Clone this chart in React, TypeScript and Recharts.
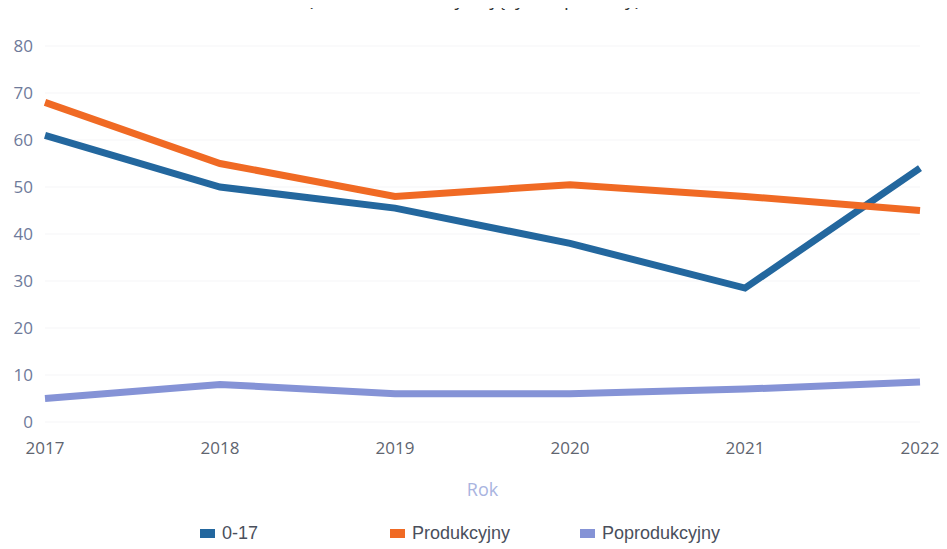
import React from 'react';
import { LineChart, Line, XAxis, YAxis, CartesianGrid, Label } from 'recharts';

const years = ['2017', '2018', '2019', '2020', '2021', '2022'];
const group0to17 = [61, 50, 45.5, 38, 28.5, 54];
const produkcyjny = [68, 55, 48, 50.5, 48, 45];
const poprodukcyjny = [5, 8, 6, 6, 7, 8.5];
const yTicks = [0, 10, 20, 30, 40, 50, 60, 70, 80];
const seriesNames = ['0-17', 'Produkcyjny', 'Poprodukcyjny'];
const seriesColors = ['#23679e', '#f06a24', '#8593d6'];

const data = years.map((rok, i) => ({
  rok,
  a: group0to17[i],
  b: produkcyjny[i],
  c: poprodukcyjny[i],
}));

const font = '"Open Sans", sans-serif';

function ChartLegend() {
  return (
    <div
      style={{
        position: 'absolute',
        top: 522,
        left: 200,
        display: 'flex',
        lineHeight: '22px',
        fontFamily: '"Liberation Sans", Arial, sans-serif',
        fontSize: 18,
        color: '#4a4f5c',
      }}
    >
      {seriesNames.map((name, i) => (
        <div key={name} style={{ width: 190, display: 'flex', alignItems: 'center' }}>
          <span style={{ display: 'inline-block', width: 15, height: 9, background: seriesColors[i], marginRight: 7 }} />
          {name}
        </div>
      ))}
    </div>
  );
}

export default function App() {
  return (
    <div style={{ position: 'relative', width: 947, height: 549, marginTop: -8, marginLeft: -8, overflow: 'hidden', background: '#fff' }}>
      <div
        style={{
          position: 'absolute',
          top: -14,
          left: 0,
          width: 900,
          lineHeight: '26px',
          textAlign: 'center',
          fontFamily: font,
          fontSize: 19,
          color: '#333',
          whiteSpace: 'nowrap',
          zIndex: 2,
        }}
      >
        Wiek (liczba osób korzystających z pomocy)
      </div>
      <LineChart width={947} height={549} data={data} margin={{ top: 46, right: 27, left: 5, bottom: 51 }}>
        <CartesianGrid stroke="#f5f5f7" vertical={false} />
        <XAxis
          dataKey="rok"
          axisLine={false}
          tickLine={false}
          tick={{ fill: '#5f6570', fontSize: 17, fontFamily: font }}
          tickMargin={14}
          height={76}
          interval={0}
        >
          <Label value="Rok" position="insideBottom" offset={2} fill="#a9b4df" fontSize={18} fontFamily={font} />
        </XAxis>
        <YAxis
          width={40}
          domain={[0, 80]}
          ticks={yTicks}
          axisLine={false}
          tickLine={false}
          tick={{ fill: '#6e7a9a', fontSize: 17, fontFamily: font }}
          tickMargin={6}
        />
        <Line dataKey="a" name={seriesNames[0]} stroke={seriesColors[0]} strokeWidth={7} dot={false} isAnimationActive={false} />
        <Line dataKey="b" name={seriesNames[1]} stroke={seriesColors[1]} strokeWidth={7} dot={false} isAnimationActive={false} />
        <Line dataKey="c" name={seriesNames[2]} stroke={seriesColors[2]} strokeWidth={7} dot={false} isAnimationActive={false} />
      </LineChart>
      <ChartLegend />
    </div>
  );
}
